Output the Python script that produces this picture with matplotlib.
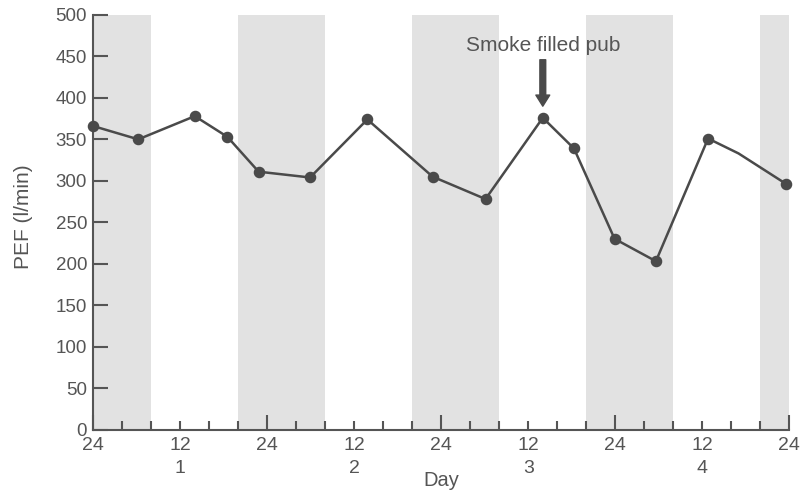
import matplotlib
matplotlib.use("Agg")
import matplotlib.pyplot as plt
from matplotlib.ticker import MultipleLocator, FixedLocator
import matplotlib.transforms as mtransforms

plt.rcParams['font.family'] = ['Liberation Sans', 'DejaVu Sans']

# Data (hours since midnight of day 0)
hours = [0, 6.2, 14.0, 18.5, 22.8, 29.9, 37.8, 46.8, 54.1, 62.0, 66.3, 71.9, 77.6, 84.8, 89.0, 95.6]
pef = [366, 350, 378, 353, 311, 304, 374, 305, 278, 376, 339, 230, 203, 351, 333, 296]
unmarked = [14]  # slight bend in the line without a marker

night_start = [0, 20, 44, 68, 92]
night_end = [8, 32, 56, 80, 96]

tick_pos = [0, 12, 24, 36, 48, 60, 72, 84, 96]
tick_labels = ['24', '12\n1', '24', '12\n2', '24', '12\n3', '24', '12\n4', '24']

annot_text = 'Smoke filled pub'
annot_hour = 62.0
annot_tip = 390
annot_tail = 446
annot_text_y = 463

line_col = '#4a4a4a'
text_col = '#555555'
shade_col = '#e2e2e2'

fig = plt.figure(figsize=(8.08, 4.94), dpi=100)
ax = fig.add_axes([93.3 / 808, (494 - 429.5) / 494, (789.3 - 93.3) / 808, (429.5 - 15) / 494])

for s, e in zip(night_start, night_end):
    ax.axvspan(s, e, color=shade_col, lw=0, zorder=0)

markidx = [i for i in range(len(hours)) if i not in unmarked]
ax.plot(hours, pef, color=line_col, lw=1.8, marker='o', markersize=7.3,
        markevery=markidx, clip_on=False, zorder=3)

ax.set_xlim(0, 96)
ax.set_ylim(0, 500)

for side in ['top', 'right']:
    ax.spines[side].set_visible(False)
for side in ['left', 'bottom']:
    ax.spines[side].set_color(text_col)
    ax.spines[side].set_linewidth(1.5)

ax.yaxis.set_major_locator(MultipleLocator(50))
ax.tick_params(axis='y', direction='in', length=10.5, width=1.5, color=text_col,
               labelsize=13.5, labelcolor=text_col, pad=4.5)

ax.xaxis.set_major_locator(FixedLocator(tick_pos))
ax.set_xticklabels(tick_labels, linespacing=1.45)
ax.xaxis.set_minor_locator(MultipleLocator(4))
ax.tick_params(axis='x', which='major', direction='in', length=6.5, width=1.5, color=text_col,
               labelsize=14, labelcolor=text_col, pad=5.5)
ax.tick_params(axis='x', which='minor', direction='in', length=6.5, width=1.5, color=text_col)
for pos, t in zip(tick_pos, ax.xaxis.get_major_ticks()):
    if pos % 24 == 0:
        t.tick1line.set_markersize(10.5)

trans = mtransforms.blended_transform_factory(ax.transData, ax.transAxes)
ax.text(48, -0.124, 'Day', transform=trans, ha='center', va='center',
        fontsize=14.5, color=text_col)
ax.text(-0.101, 0.513, 'PEF (l/min)', transform=ax.transAxes, rotation=90,
        ha='center', va='center', fontsize=15, color=text_col)

ax.text(annot_hour, annot_text_y, annot_text, ha='center', va='center',
        fontsize=15, color=text_col)
ax.annotate('', xy=(annot_hour, annot_tip), xytext=(annot_hour, annot_tail),
            arrowprops=dict(width=4.2, headwidth=10, headlength=8, color=line_col, shrink=0))

fig.savefig('out.png', dpi=100)
